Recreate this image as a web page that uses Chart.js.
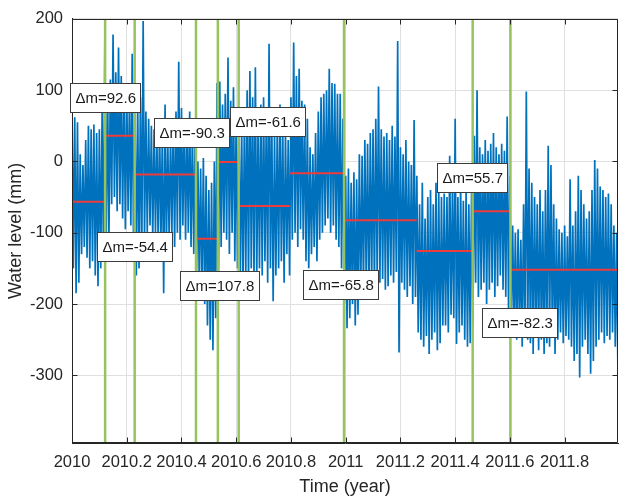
<!DOCTYPE html>
<html>
<head>
<meta charset="utf-8">
<title>Water level change points</title>
<script src="https://cdn.jsdelivr.net/npm/chart.js@4.4.1/dist/chart.umd.min.js"></script>
<style>
  html, body { margin: 0; padding: 0; background: #fff; }
  #wrap { width: 620px; height: 496px; position: relative; }
</style>
</head>
<body>
<div id="wrap"><canvas id="levelChart"></canvas></div>
<script>
// Water level record (mm): upper and lower swing of each 0.01-year step, starting 2010.0
const startYear = 2010;
const stepYear = 0.01;
const levelHigh = [
    75, 62, 55, 10, -5, 30, 50, 45, 52, 40,
    45, 70, 172, 110, 115, 178, 125, 160, 120, 110,
    100, 90, 151, 80, 85, 90, 197, 70, 60, 50,
    45, 40, 55, 35, 80, 30, 40, 60, 70, 140,
    75, 60, 55, 70, 45, 40, 0, -10, 5, -20,
    -40, -30, 0, 110, 112, 80, 95, 146, 85, 104,
    70, 60, 50, 70, 100, 127, 90, 132, 60, 80,
    90, 70, 165, 60, 40, 55, 80, 50, 45, 30,
    90, 167, 120, 130, 85, 80, 60, 20, 10, 40,
    70, 90, 95, 100, 130, 110, 109, 95, 95, 60,
    -20, -10, -30, -15, -25, 10, 8, 30, 25, 40,
    45, 60, 105, 45, 35, 40, 30, 50, 35, 169,
    20, 10, 30, 0, -5, 58, -20, -60, -30, -80,
    -50, -40, -60, -30, -40, -50, -45, -50, 8, -40,
    60, -50, -30, -55, -40, -60, -40, 36, 100, 20,
    10, 30, 15, 25, 40, 20, 10, 25, 15, 63,
    -20, -90, -100, -95, -110, -60, 98, -10, -30, -50,
    -60, -40, -70, -40, 22, -5, -60, -80, -95, -100,
    -90, -105, -25, -90, -70, -20, -40, -60, -80, -70,
    -40, 2, -10, -35, -40, -50, -45, -60, -90, -100
];
const levelLow = [
    -150, -185, -170, -130, -120, -135, -150, -140, -160, -175,
    -150, -135, -120, -110, -60, -50, -70, -60, -80, -95,
    -70, -90, -130, -160, -150, -130, -110, -100, -90, -110,
    -100, -120, -110, -185, -120, -110, -100, -120, -100, -110,
    -90, -110, -100, -120, -130, -160, -170, -190, -200, -230,
    -250, -265, -220, -180, -120, -100, -110, -130, -100, -140,
    -150, -170, -180, -160, -175, -150, -165, -170, -150, -160,
    -140, -170, -150, -196, -160, -150, -140, -170, -130, -160,
    -110, -100, -120, -95, -110, -140, -150, -130, -120, -140,
    -110, -100, -90, -80, -100, -90, -110, -120, -150, -200,
    -234, -220, -200, -230, -215, -190, -180, -170, -190, -170,
    -180, -160, -170, -165, -180, -175, -160, -170, -155, -268,
    -170, -180, -190, -175, -200, -190, -240, -250, -260, -245,
    -270, -250, -240, -265, -255, -230, -230, -240, -215, -220,
    -256, -240, -230, -250, -260, -255, -230, -170, -190, -180,
    -170, -200, -180, -170, -190, -175, -160, -180, -190, -210,
    -230, -240, -250, -235, -260, -245, -250, -255, -270, -240,
    -265, -250, -270, -255, -260, -245, -270, -250, -240, -255,
    -245, -250, -260, -280, -270, -303, -260, -250, -270, -298,
    -280, -260, -250, -240, -255, -245, -250, -240, -260, -307
];

// Detected change points (year)
const changePoints = [2010.121, 2010.229, 2010.453, 2010.533, 2010.609, 2010.994, 2011.464, 2011.602];

// Segments of constant mean level: edges (year) and mean (mm)
const segmentEdges = [2010, 2010.121, 2010.229, 2010.453, 2010.533, 2010.609, 2010.797, 2010.994, 2011.259, 2011.464, 2011.602, 2011.995];
const segmentMeans = [-56.5, 36.1, -18.3, -108.6, -0.8, -62.4, -16.7, -82.5, -125.5, -69.8, -152.1];

// Segments compared at each change point, and where its Δm box goes (left edge year, centre mm)
const changePairs = [[0, 1], [1, 2], [2, 3], [3, 4], [4, 5], [6, 7], [8, 9], [9, 10]];
const boxYear = [2009.9934, 2010.0896, 2010.2981, 2010.3932, 2010.5761, 2010.8431, 2011.3332, 2011.4978];
const boxLevel = [89.2, -119.9, 40.6, -174, 55.8, -172.6, -22.6, -225.4];

// Axis ticks
const xTicks = [2010, 2010.2, 2010.4, 2010.6, 2010.8, 2011, 2011.2, 2011.4, 2011.6, 2011.8];
const xTickLabels = ['2010', '2010.2', '2010.4', '2010.6', '2010.8', '2011', '2011.2', '2011.4', '2011.6', '2011.8'];
const yTicks = [-300, -200, -100, 0, 100, 200];
const xMin = 2010, xMax = 2011.995;
const yMin = -395, yMax = 200;

const fontFamily = '"Liberation Sans", Arial, Helvetica, sans-serif';
const axisColor = '#262626';

// Zig-zag between the upper and lower swing so the trace fills its band
const levelSeries = [];
levelHigh.forEach((hi, i) => {
    const t = startYear + i * stepYear;
    levelSeries.push({ x: t, y: hi });
    levelSeries.push({ x: t + stepYear / 2, y: levelLow[i] });
});

// Segment means as flat red pieces, broken with nulls
const meanSeries = [];
segmentMeans.forEach((m, i) => {
    meanSeries.push({ x: segmentEdges[i], y: m });
    meanSeries.push({ x: segmentEdges[i + 1], y: m });
    meanSeries.push({ x: segmentEdges[i + 1], y: null });
});

// Full-height green marker at every change point
const breakSeries = [];
changePoints.forEach(c => {
    breakSeries.push({ x: c, y: yMin });
    breakSeries.push({ x: c, y: yMax });
    breakSeries.push({ x: c, y: null });
});

// Box round the axes with inward ticks, then the Δm annotations
const axesBox = {
    id: 'axesBox',
    afterDatasetsDraw(chart) {
        const { ctx, chartArea: area, scales: { x, y } } = chart;
        const l = Math.round(area.left) + 0.5, r = Math.round(area.right) - 0.5;
        const t = Math.round(area.top) + 0.5, b = Math.round(area.bottom) - 0.5;
        ctx.save();
        ctx.strokeStyle = axisColor;
        ctx.lineWidth = 1;
        ctx.beginPath();
        ctx.rect(l, t, r - l, b - t);
        xTicks.forEach(v => {
            const px = Math.round(x.getPixelForValue(v)) + 0.5;
            ctx.moveTo(px, b); ctx.lineTo(px, b - 5);
            ctx.moveTo(px, t); ctx.lineTo(px, t + 5);
        });
        yTicks.forEach(v => {
            const py = Math.round(y.getPixelForValue(v)) + 0.5;
            ctx.moveTo(l, py); ctx.lineTo(l + 5, py);
            ctx.moveTo(r, py); ctx.lineTo(r - 5, py);
        });
        ctx.stroke();

        ctx.font = '15px ' + fontFamily;
        ctx.textBaseline = 'middle';
        changePairs.forEach(([from, to], i) => {
            const text = 'Δm=' + (segmentMeans[to] - segmentMeans[from]).toFixed(1);
            const w = Math.round(ctx.measureText(text).width + 10);
            const h = 29;
            const left = Math.round(x.getPixelForValue(boxYear[i])) + 0.5;
            const top = Math.round(y.getPixelForValue(boxLevel[i]) - h / 2) + 0.5;
            ctx.fillStyle = '#ffffff';
            ctx.fillRect(left, top, w, h);
            ctx.strokeStyle = '#3c3c3c';
            ctx.strokeRect(left, top, w, h);
            ctx.fillStyle = '#1a1a1a';
            ctx.fillText(text, left + 5, top + h / 2 + 1);
        });
        ctx.restore();
    }
};

new Chart(document.getElementById('levelChart'), {
    type: 'line',
    data: {
        datasets: [
            { data: levelSeries, borderColor: '#0072bd', borderWidth: 1.7, pointRadius: 0, tension: 0, order: 3 },
            { data: meanSeries, borderColor: '#ee3b3b', borderWidth: 2, pointRadius: 0, spanGaps: false, order: 2 },
            { data: breakSeries, borderColor: '#96c35e', borderWidth: 2.5, pointRadius: 0, spanGaps: false, order: 1 }
        ]
    },
    options: {
        responsive: true,
        maintainAspectRatio: false,
        animation: false,
        events: [],
        layout: { padding: { top: 14, right: 2, left: 0, bottom: 0 } },
        plugins: { legend: { display: false }, tooltip: { enabled: false } },
        scales: {
            x: {
                type: 'linear',
                min: xMin,
                max: xMax,
                afterBuildTicks: s => { s.ticks = xTicks.map(v => ({ value: v })); },
                afterFit: s => { s.height = 53; },
                ticks: {
                    callback: v => xTickLabels[xTicks.indexOf(v)],
                    color: axisColor,
                    font: { family: fontFamily, size: 16.5 },
                    padding: 10,
                    maxRotation: 0,
                    autoSkip: false
                },
                grid: { color: '#e0e0e0', drawTicks: false },
                border: { color: axisColor },
                title: {
                    display: true,
                    text: 'Time (year)',
                    color: axisColor,
                    font: { family: fontFamily, size: 18, lineHeight: 1 },
                    padding: { top: 0, bottom: 0 }
                }
            },
            y: {
                type: 'linear',
                min: yMin,
                max: yMax,
                afterBuildTicks: s => { s.ticks = yTicks.map(v => ({ value: v })); },
                afterFit: s => { s.width = 72; },
                ticks: {
                    color: axisColor,
                    font: { family: fontFamily, size: 16.5 },
                    padding: 9
                },
                grid: { color: '#e0e0e0', drawTicks: false },
                border: { color: axisColor },
                title: {
                    display: true,
                    text: 'Water level (mm)',
                    color: axisColor,
                    font: { family: fontFamily, size: 18, lineHeight: 1 },
                    padding: { top: 7, bottom: 0 }
                }
            }
        }
    },
    plugins: [axesBox]
});
</script>
</body>
</html>
